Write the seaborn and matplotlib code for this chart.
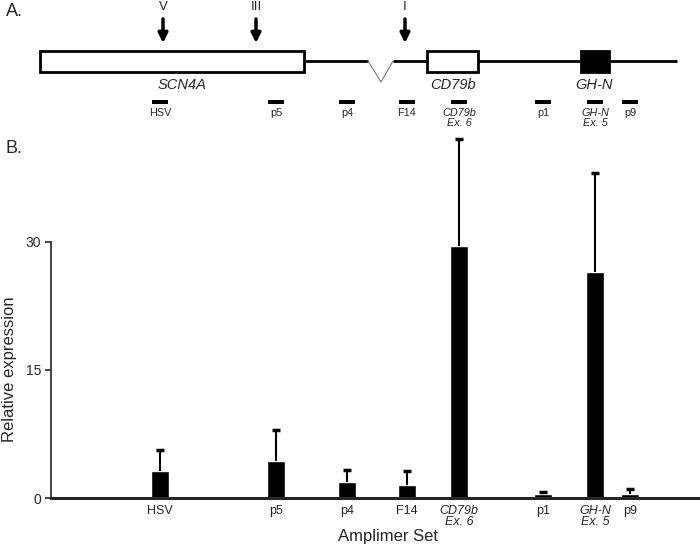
import matplotlib
matplotlib.use("Agg")
import matplotlib.pyplot as plt
import matplotlib.patches as mpatches
import numpy as np
import pandas as pd
import seaborn as sns

# amplimer sets, placed by position along the locus (same scale as the map)
amplimers = ["HSV", "p5", "p4", "F14", "CD79b\nEx. 6", "p1", "GH-N\nEx. 5", "p9"]
positions = [160, 276, 347, 407, 459, 543, 595, 630]
expression = [3.2, 4.3, 1.9, 1.5, 29.5, 0.45, 26.5, 0.5]
error_up = [2.4, 3.7, 1.4, 1.7, 12.5, 0.2, 11.6, 0.5]
italic_sets = ["CD79b\nEx. 6", "GH-N\nEx. 5"]

# panel A: gene map
genes = ["SCN4A", "CD79b", "GH-N"]
gene_start = [40, 427, 581]
gene_end = [304, 478, 609]
gene_fill = ["white", "white", "black"]
gene_label_x = [182, 453, 594]
backbone = [(304, 368), (393, 677)]
splice = (368, 381, 393)
hs_sites = ["V", "III", "I"]
hs_pos = [163, 256, 405]

df = pd.DataFrame({"set": amplimers, "pos": positions, "expr": expression})

sns.set_style("ticks")
plt.rcParams["font.family"] = ["Liberation Sans", "DejaVu Sans"]

fig = plt.figure(figsize=(7, 5.52), dpi=100)

# ---------------- Panel A ----------------
axm = fig.add_axes([0, 1 - 130 / 552, 1, 130 / 552])
axm.set_xlim(0, 700)
axm.set_ylim(130, 0)
axm.set_axis_off()

for a, b in backbone:
    axm.plot([a, b], [61, 61], color="black", lw=2, solid_capstyle="butt")
axm.plot([splice[0], splice[1], splice[2]], [61, 82, 61], color="#777777", lw=0.8)

for name, s, e, fc, lx in zip(genes, gene_start, gene_end, gene_fill, gene_label_x):
    axm.add_patch(mpatches.Rectangle((s, 51), e - s, 21, facecolor=fc,
                                     edgecolor="black", lw=2, zorder=3))
    axm.text(lx, 85, name, ha="center", va="center", fontsize=10.5,
             fontstyle="italic")

for lab, x in zip(hs_sites, hs_pos):
    axm.text(x, 7, lab, ha="center", va="center", fontsize=9.5)
    axm.annotate("", xy=(x, 43), xytext=(x, 19),
                 arrowprops=dict(arrowstyle="-|>", lw=2.5, color="black",
                                 mutation_scale=14, shrinkA=0, shrinkB=0))

for lab, x in zip(amplimers, positions):
    axm.add_patch(mpatches.Rectangle((x - 8, 99.5), 16, 4, facecolor="black",
                                     edgecolor="none"))
    style = "italic" if lab in italic_sets else "normal"
    axm.text(x, 108, lab, ha="center", va="top", fontsize=7.8,
             fontstyle=style, linespacing=1.05)

fig.text(0.008, 1 - 12 / 552, "A.", fontsize=13, va="center")
fig.text(0.008, 1 - 148 / 552, "B.", fontsize=13, va="center")

# ---------------- Panel B ----------------
ax = fig.add_axes([51 / 700, 54 / 552, 649 / 700, 368 / 552])
sns.barplot(data=df, x="pos", y="expr", native_scale=True, color="black",
            width=0.5, errorbar=None, saturation=1, ax=ax)

# upper error bars only (stem + cap on top)
err_top = np.array(expression) + np.array(error_up)
ax.vlines(positions, expression, err_top, colors="black", lw=1.5, zorder=2)
ax.plot(positions, err_top, ls="none", marker="_", ms=6, mew=2.5,
        color="black", zorder=2)

ax.set_xlim(51, 700)
ax.set_ylim(0, 43.1)
ax.set_yticks([0, 15, 30])
ax.spines["left"].set_bounds(0, 30)
ax.spines["left"].set_linewidth(1.2)
ax.spines["bottom"].set_linewidth(2.2)
ax.spines["bottom"].set_zorder(4)
for side in ["top", "right"]:
    ax.spines[side].set_visible(False)
ax.tick_params(axis="y", length=4, width=1.2, labelsize=10, pad=3)
ax.tick_params(axis="x", length=0, pad=5)

ax.set_xticks(positions)
ax.set_xticklabels(amplimers, fontsize=9, linespacing=0.95)
for t in ax.get_xticklabels():
    if t.get_text() in italic_sets:
        t.set_fontstyle("italic")

ax.set_xlabel("Amplimer Set", fontsize=12)
ax.xaxis.set_label_coords(0.519, -0.085)
ax.set_ylabel("Relative expression", fontsize=12)
ax.yaxis.set_label_coords(-0.052, 0.35)

fig.savefig("out.png", dpi=100)
